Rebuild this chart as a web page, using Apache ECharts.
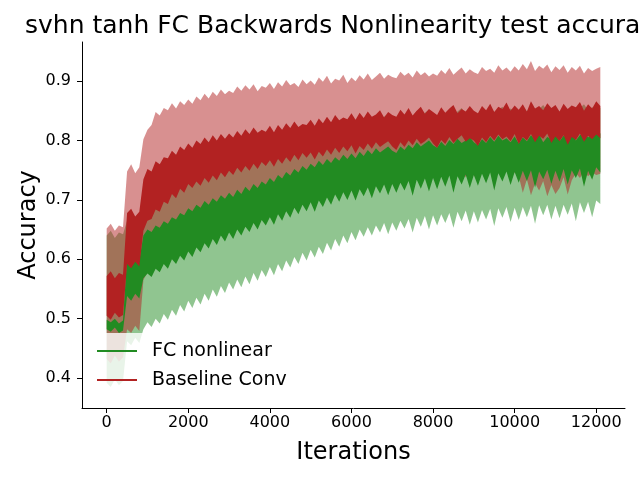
<!DOCTYPE html>
<html>
<head>
<meta charset="utf-8">
<script src="https://cdn.jsdelivr.net/npm/echarts@6/dist/echarts.min.js"></script>
<style>
  html, body { margin: 0; padding: 0; background: #fff; }
  #main { width: 640px; height: 480px; }
</style>
</head>
<body>
<div id="main"></div>
<script>
// test accuracy logged every 100 iterations, 0 .. 12100
var STEP = 100

// Baseline Conv: light band = mean +/- std, dark band = spread of the noisy mean line
var redLightUpper = [
    0.652, 0.660, 0.648, 0.657, 0.654,
    0.748, 0.760, 0.745, 0.755,
    0.802, 0.818, 0.826, 0.848, 0.842, 0.855, 0.851, 0.863, 0.854, 0.866, 0.860, 0.869,
    0.862, 0.874, 0.868, 0.879, 0.871, 0.882, 0.875, 0.886, 0.878, 0.884,
    0.880, 0.891, 0.884, 0.893, 0.886, 0.895, 0.883, 0.892, 0.889, 0.897,
    0.887, 0.898, 0.891, 0.902, 0.893, 0.897, 0.890, 0.903, 0.895, 0.901,
    0.894, 0.906, 0.899, 0.909, 0.896, 0.904, 0.901, 0.911, 0.897, 0.906,
    0.900, 0.910, 0.903, 0.913, 0.902, 0.908, 0.914, 0.904, 0.911, 0.907,
    0.905, 0.916, 0.909, 0.914, 0.906, 0.918, 0.910, 0.915, 0.908, 0.913,
    0.909, 0.919, 0.912, 0.922, 0.911, 0.917, 0.923, 0.913, 0.920, 0.915,
    0.912, 0.924, 0.917, 0.921, 0.914, 0.927, 0.918, 0.923, 0.916, 0.925,
    0.918, 0.929, 0.920, 0.934, 0.917, 0.926, 0.921, 0.928, 0.915, 0.925,
    0.919, 0.927, 0.914, 0.924, 0.918, 0.926, 0.913, 0.922, 0.917, 0.921,
    0.924
]
var redDarkUpper = [
    0.572, 0.580, 0.568, 0.577, 0.574,
    0.678, 0.685, 0.672, 0.680,
    0.735, 0.752, 0.748, 0.765, 0.760, 0.772, 0.770, 0.783, 0.776, 0.790, 0.784, 0.795,
    0.788, 0.800, 0.794, 0.805, 0.797, 0.809, 0.800, 0.811, 0.803, 0.812,
    0.805, 0.816, 0.808, 0.819, 0.811, 0.822, 0.813, 0.818, 0.815, 0.825,
    0.814, 0.826, 0.818, 0.829, 0.821, 0.832, 0.823, 0.828, 0.826, 0.835,
    0.825, 0.837, 0.829, 0.840, 0.831, 0.843, 0.834, 0.839, 0.836, 0.846,
    0.835, 0.847, 0.838, 0.849, 0.840, 0.844, 0.851, 0.839, 0.848, 0.843,
    0.840, 0.852, 0.844, 0.855, 0.842, 0.850, 0.857, 0.845, 0.853, 0.848,
    0.843, 0.856, 0.847, 0.854, 0.860, 0.846, 0.853, 0.849, 0.858, 0.850,
    0.846, 0.858, 0.851, 0.862, 0.848, 0.857, 0.853, 0.864, 0.850, 0.859,
    0.852, 0.861, 0.849, 0.866, 0.854, 0.858, 0.851, 0.863, 0.855, 0.860,
    0.849, 0.862, 0.853, 0.859, 0.856, 0.865, 0.850, 0.861, 0.854, 0.866,
    0.858
]
var redDarkLower = [
    0.505, 0.498, 0.510, 0.502, 0.506,
    0.592, 0.585, 0.596, 0.588,
    0.648, 0.665, 0.668, 0.684, 0.680, 0.697, 0.693, 0.710, 0.703, 0.719, 0.712, 0.727,
    0.720, 0.731, 0.724, 0.737, 0.729, 0.741, 0.733, 0.746, 0.738, 0.749,
    0.742, 0.754, 0.746, 0.757, 0.749, 0.761, 0.752, 0.764, 0.757, 0.767,
    0.756, 0.769, 0.761, 0.772, 0.764, 0.776, 0.767, 0.779, 0.771, 0.780,
    0.768, 0.781, 0.773, 0.785, 0.776, 0.788, 0.779, 0.790, 0.782, 0.792,
    0.778, 0.791, 0.784, 0.795, 0.786, 0.797, 0.789, 0.794, 0.799, 0.790,
    0.784, 0.797, 0.789, 0.800, 0.792, 0.803, 0.794, 0.799, 0.805, 0.795,
    0.788, 0.801, 0.794, 0.806, 0.796, 0.803, 0.809, 0.798, 0.804, 0.800,
    0.791, 0.805, 0.797, 0.808, 0.800, 0.810, 0.802, 0.807, 0.799, 0.811,
    0.794, 0.806, 0.800, 0.811, 0.797, 0.808, 0.803, 0.812, 0.796, 0.807,
    0.799, 0.809, 0.793, 0.806, 0.801, 0.812, 0.798, 0.808, 0.802, 0.810,
    0.804
]
var redLightLower = [
    0.432, 0.425, 0.438, 0.428, 0.435,
    0.482, 0.476, 0.488, 0.479,
    0.565, 0.578, 0.585, 0.596, 0.601, 0.612, 0.615, 0.626, 0.628, 0.638, 0.636, 0.647,
    0.642, 0.655, 0.649, 0.660, 0.654, 0.665, 0.658, 0.669, 0.663, 0.672,
    0.664, 0.676, 0.670, 0.681, 0.673, 0.685, 0.677, 0.688, 0.681, 0.692,
    0.684, 0.697, 0.690, 0.701, 0.693, 0.705, 0.698, 0.709, 0.701, 0.712,
    0.704, 0.716, 0.709, 0.719, 0.711, 0.723, 0.715, 0.726, 0.718, 0.728,
    0.719, 0.731, 0.724, 0.734, 0.726, 0.737, 0.729, 0.735, 0.740, 0.731,
    0.727, 0.739, 0.732, 0.742, 0.734, 0.745, 0.736, 0.741, 0.747, 0.738,
    0.731, 0.744, 0.736, 0.747, 0.739, 0.745, 0.750, 0.738, 0.746, 0.741,
    0.734, 0.747, 0.739, 0.750, 0.742, 0.748, 0.737, 0.751, 0.743, 0.746,
    0.740, 0.712, 0.735, 0.708, 0.728, 0.716, 0.732, 0.706, 0.725, 0.710,
    0.720, 0.738, 0.709, 0.733, 0.745, 0.737, 0.748, 0.740, 0.746, 0.742,
    0.744
]

// FC nonlinear
var greenLightUpper = [
    0.640, 0.648, 0.636, 0.645, 0.642,
    0.665, 0.672, 0.660, 0.668,
    0.712, 0.722, 0.718, 0.730, 0.727, 0.738, 0.735, 0.745, 0.742, 0.752, 0.749, 0.760,
    0.755, 0.766, 0.760, 0.770, 0.764, 0.775, 0.768, 0.779, 0.772, 0.782,
    0.775, 0.787, 0.780, 0.791, 0.784, 0.795, 0.788, 0.799, 0.792, 0.802,
    0.796, 0.808, 0.801, 0.812, 0.805, 0.816, 0.809, 0.819, 0.813, 0.822,
    0.816, 0.827, 0.820, 0.830, 0.823, 0.833, 0.826, 0.831, 0.828, 0.835,
    0.829, 0.839, 0.832, 0.841, 0.834, 0.843, 0.836, 0.840, 0.845, 0.838,
    0.836, 0.846, 0.839, 0.848, 0.841, 0.850, 0.843, 0.847, 0.852, 0.845,
    0.840, 0.850, 0.843, 0.852, 0.845, 0.849, 0.855, 0.846, 0.851, 0.848,
    0.842, 0.853, 0.846, 0.855, 0.848, 0.852, 0.857, 0.847, 0.854, 0.850,
    0.845, 0.856, 0.849, 0.858, 0.847, 0.853, 0.860, 0.850, 0.855, 0.851,
    0.846, 0.857, 0.852, 0.859, 0.849, 0.855, 0.861, 0.851, 0.856, 0.853,
    0.855
]
var greenDarkUpper = [
    0.498, 0.494, 0.500, 0.492, 0.497,
    0.602, 0.596, 0.605, 0.598,
    0.640, 0.650, 0.646, 0.657, 0.653, 0.664, 0.660, 0.671, 0.667, 0.678, 0.674, 0.686,
    0.681, 0.692, 0.687, 0.698, 0.692, 0.703, 0.697, 0.708, 0.702, 0.712,
    0.705, 0.717, 0.710, 0.722, 0.715, 0.727, 0.720, 0.731, 0.726, 0.737,
    0.730, 0.742, 0.736, 0.747, 0.741, 0.752, 0.746, 0.757, 0.751, 0.761,
    0.755, 0.766, 0.759, 0.769, 0.762, 0.772, 0.766, 0.776, 0.769, 0.778,
    0.770, 0.781, 0.774, 0.784, 0.777, 0.787, 0.780, 0.785, 0.790, 0.783,
    0.779, 0.790, 0.784, 0.793, 0.787, 0.797, 0.790, 0.795, 0.800, 0.792,
    0.788, 0.798, 0.791, 0.801, 0.794, 0.803, 0.796, 0.800, 0.806, 0.797,
    0.792, 0.802, 0.796, 0.806, 0.798, 0.808, 0.800, 0.804, 0.797, 0.807,
    0.795, 0.805, 0.799, 0.809, 0.801, 0.810, 0.797, 0.806, 0.802, 0.811,
    0.799, 0.808, 0.803, 0.812, 0.800, 0.809, 0.814, 0.805, 0.811, 0.818,
    0.812
]
var greenDarkLower = [
    0.482, 0.478, 0.485, 0.476, 0.480,
    0.538, 0.530, 0.542, 0.534,
    0.568, 0.576, 0.570, 0.584, 0.578, 0.592, 0.584, 0.600, 0.592, 0.606, 0.598, 0.613,
    0.604, 0.620, 0.612, 0.627, 0.618, 0.634, 0.624, 0.640, 0.630, 0.645,
    0.634, 0.650, 0.640, 0.655, 0.646, 0.661, 0.650, 0.666, 0.657, 0.671,
    0.658, 0.676, 0.665, 0.681, 0.670, 0.687, 0.676, 0.692, 0.681, 0.696,
    0.680, 0.699, 0.688, 0.704, 0.692, 0.709, 0.697, 0.713, 0.700, 0.716,
    0.699, 0.718, 0.706, 0.721, 0.703, 0.723, 0.711, 0.726, 0.708, 0.727,
    0.712, 0.729, 0.716, 0.732, 0.707, 0.734, 0.719, 0.736, 0.714, 0.737,
    0.718, 0.739, 0.722, 0.741, 0.712, 0.740, 0.726, 0.743, 0.720, 0.742,
    0.724, 0.744, 0.728, 0.746, 0.716, 0.745, 0.731, 0.748, 0.725, 0.747,
    0.729, 0.749, 0.732, 0.750, 0.721, 0.748, 0.735, 0.751, 0.727, 0.749,
    0.731, 0.752, 0.726, 0.750, 0.737, 0.753, 0.722, 0.749, 0.734, 0.755,
    0.746
]
var greenLightLower = [
    0.392, 0.385, 0.398, 0.388, 0.395,
    0.462, 0.455, 0.468, 0.459,
    0.482, 0.494, 0.486, 0.500, 0.492, 0.508, 0.498, 0.515, 0.505, 0.523, 0.512, 0.530,
    0.518, 0.535, 0.524, 0.542, 0.530, 0.549, 0.537, 0.555, 0.543, 0.561,
    0.549, 0.566, 0.553, 0.571, 0.558, 0.577, 0.564, 0.582, 0.570, 0.587,
    0.573, 0.592, 0.580, 0.598, 0.586, 0.604, 0.592, 0.611, 0.598, 0.616,
    0.603, 0.621, 0.609, 0.628, 0.615, 0.634, 0.621, 0.640, 0.627, 0.646,
    0.632, 0.650, 0.638, 0.654, 0.640, 0.657, 0.645, 0.661, 0.642, 0.662,
    0.648, 0.665, 0.652, 0.668, 0.645, 0.670, 0.655, 0.673, 0.650, 0.674,
    0.657, 0.676, 0.661, 0.678, 0.653, 0.680, 0.664, 0.682, 0.658, 0.681,
    0.662, 0.683, 0.667, 0.685, 0.656, 0.686, 0.670, 0.688, 0.663, 0.687,
    0.666, 0.688, 0.671, 0.690, 0.660, 0.691, 0.674, 0.692, 0.667, 0.690,
    0.669, 0.692, 0.675, 0.694, 0.664, 0.696, 0.678, 0.697, 0.671, 0.699,
    0.693
]

var yTicks = [0.4, 0.5, 0.6, 0.7, 0.8, 0.9]
var xTicks = [0, 2000, 4000, 6000, 8000, 10000, 12000]

var GREEN = '#228b22'
var RED = '#b22222'
var FONT = 'DejaVu Sans'

var iterations = redLightUpper.map(function (v, i) { return i * STEP })

// one filled polygon between two edges, placed with the axis scales
function band(name, lower, upper, color, opacity) {
    return {
        type: 'custom',
        name: name,
        silent: true,
        clip: true,
        itemStyle: { color: color },
        data: [[iterations[0], lower[0]]],
        renderItem: function (params, api) {
            var pts = []
            for (var i = 0; i < iterations.length; i++) {
                pts.push(api.coord([iterations[i], upper[i]]))
            }
            for (var j = iterations.length - 1; j >= 0; j--) {
                pts.push(api.coord([iterations[j], lower[j]]))
            }
            return {
                type: 'polygon',
                shape: { points: pts },
                style: { fill: color, opacity: opacity }
            }
        }
    }
}

var myChart = echarts.init(document.getElementById('main'))

var option = {
    animation: false,
    backgroundColor: '#fff',
    title: {
        text: 'svhn tanh FC Backwards Nonlinearity test accuracy',
        left: 20,
        top: 9,
        textStyle: { fontFamily: FONT, fontSize: 25, fontWeight: 'normal', color: '#000' }
    },
    grid: { left: 82, right: 15, top: 42, bottom: 72, containLabel: false },
    legend: {
        data: [
            { name: 'FC nonlinear', itemStyle: { color: GREEN } },
            { name: 'Baseline Conv', itemStyle: { color: RED } }
        ],
        orient: 'vertical',
        left: 88,
        top: 333,
        padding: [8, 10, 5, 9],
        itemGap: 9,
        itemWidth: 40,
        itemHeight: 2,
        icon: 'rect',
        backgroundColor: 'rgba(255,255,255,0.8)',
        textStyle: { fontFamily: FONT, fontSize: 19, color: '#000', lineHeight: 20, padding: [0, 0, 0, 10] },
        selectedMode: false
    },
    xAxis: {
        type: 'value',
        min: -605,
        max: 12705,
        name: 'Iterations',
        nameLocation: 'middle',
        nameGap: 33,
        nameMoveOverlap: false,
        nameTextStyle: { fontFamily: FONT, fontSize: 24, color: '#000' },
        axisLine: { show: true, onZero: false, lineStyle: { color: '#000', width: 1 } },
        axisTick: { show: true, length: 5, lineStyle: { color: '#000' }, customValues: xTicks },
        axisLabel: {
            fontFamily: FONT, fontSize: 16, color: '#000', margin: 7, customValues: xTicks,
            formatter: function (v) { return String(v) }
        },
        splitLine: { show: false }
    },
    yAxis: {
        type: 'value',
        min: 0.3495,
        max: 0.966,
        name: 'Accuracy',
        nameLocation: 'middle',
        nameGap: 41,
        nameMoveOverlap: false,
        nameTextStyle: { fontFamily: FONT, fontSize: 24, color: '#000' },
        axisLine: { show: true, onZero: false, lineStyle: { color: '#000', width: 1 } },
        axisTick: { show: true, length: 5, lineStyle: { color: '#000' }, customValues: yTicks },
        axisLabel: {
            fontFamily: FONT, fontSize: 16, color: '#000', margin: 11, customValues: yTicks,
            formatter: function (v) { return v.toFixed(1) }
        },
        splitLine: { show: false }
    },
    series: [
        band('FC nonlinear', greenLightLower, greenLightUpper, GREEN, 0.5),
        band('Baseline Conv', redLightLower, redLightUpper, RED, 0.5),
        band('FC nonlinear', greenDarkLower, greenDarkUpper, GREEN, 1),
        band('Baseline Conv', redDarkLower, redDarkUpper, RED, 1)
    ]
}
option && myChart.setOption(option)
</script>
</body>
</html>
